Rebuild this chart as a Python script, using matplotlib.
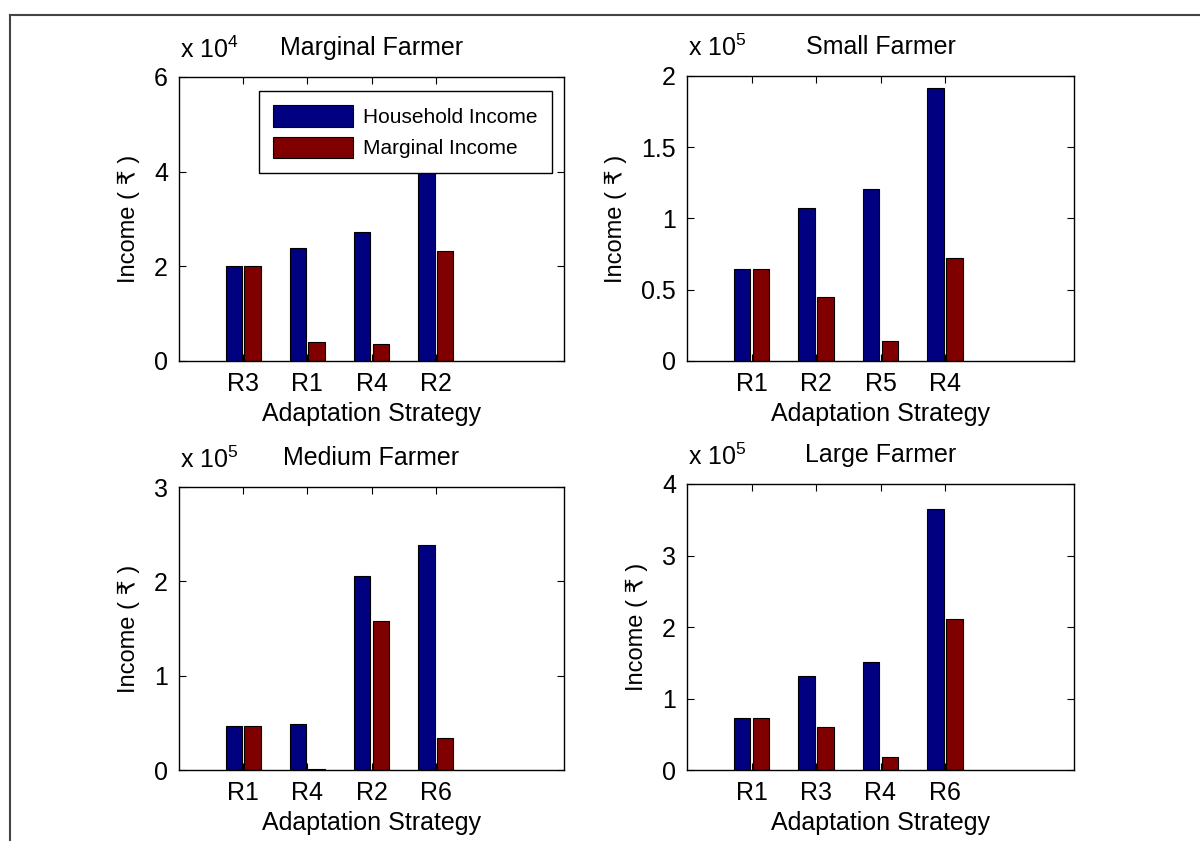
"""Household vs marginal income by adaptation strategy for four farmer classes."""

import matplotlib

matplotlib.use("Agg")
import matplotlib.pyplot as plt
from matplotlib.lines import Line2D
import numpy as np

plt.rcParams["font.family"] = ["Liberation Sans", "DejaVu Sans"]
plt.rcParams["mathtext.default"] = "regular"

# Incomes in rupees, strategies listed in plotting order
marginal_strategies = ["R3", "R1", "R4", "R2"]
marginal_household = [20000, 23900, 27200, 44000]
marginal_marginal = [20000, 3900, 3600, 23300]

small_strategies = ["R1", "R2", "R5", "R4"]
small_household = [64300, 107000, 120500, 191800]
small_marginal = [64300, 44700, 14300, 72500]

medium_strategies = ["R1", "R4", "R2", "R6"]
medium_household = [47000, 48800, 206000, 239000]
medium_marginal = [47000, 1000, 158300, 33900]

large_strategies = ["R1", "R3", "R4", "R6"]
large_household = [73200, 131500, 151000, 364600]
large_marginal = [73200, 59700, 18600, 211200]

PANELS = [
    ("Marginal Farmer", marginal_strategies, marginal_household, marginal_marginal, 4, [0, 2, 4, 6]),
    ("Small Farmer", small_strategies, small_household, small_marginal, 5, [0, 0.5, 1, 1.5, 2]),
    ("Medium Farmer", medium_strategies, medium_household, medium_marginal, 5, [0, 1, 2, 3]),
    ("Large Farmer", large_strategies, large_household, large_marginal, 5, [0, 1, 2, 3, 4]),
]

AXES_RECTS = [
    (0.1492, 0.5708, 0.3208, 0.3377),
    (0.5725, 0.5708, 0.3225, 0.3389),
    (0.1492, 0.0844, 0.3208, 0.3365),
    (0.5725, 0.0844, 0.3225, 0.3401),
]

BLUE = "#000080"
RED = "#800000"
FS = 18


def tick_text(v):
    return f"{v:g}"


fig = plt.figure(figsize=(12, 8.41), dpi=100)

for (title, strategies, household, marginal, exponent, yticks), rect in zip(PANELS, AXES_RECTS):
    ax = fig.add_axes(rect)
    scale = 10.0 ** exponent
    x = np.arange(1, len(strategies) + 1)
    ax.bar(x - 0.145, np.asarray(household) / scale, width=0.255, color=BLUE,
           edgecolor="black", linewidth=0.8, label="Household Income")
    ax.bar(x + 0.145, np.asarray(marginal) / scale, width=0.255, color=RED,
           edgecolor="black", linewidth=0.8, label="Marginal Income")

    ax.set_xlim(0, 6)
    ax.set_ylim(yticks[0], yticks[-1])
    ax.set_xticks(x)
    ax.set_xticklabels(strategies)
    ax.set_yticks(yticks)
    ax.set_yticklabels([tick_text(v) for v in yticks])
    ax.tick_params(direction="in", top=True, right=True, length=5, width=0.8,
                   labelsize=FS, pad=8)
    for spine in ax.spines.values():
        spine.set_linewidth(1.0)

    ax.set_title(title, fontsize=FS, pad=16)
    ax.set_xlabel("Adaptation Strategy", fontsize=FS, labelpad=4)
    ax.set_ylabel("Income ( ₹ )", fontsize=17, labelpad=10)
    ax.annotate(f"x $10^{{{exponent}}}$", xy=(0, 1), xycoords="axes fraction",
                xytext=(1, 14), textcoords="offset points", fontsize=FS,
                ha="left", va="baseline")

    if title == "Marginal Farmer":
        ax.legend(loc="upper right", bbox_to_anchor=(0.969, 0.951), borderaxespad=0,
                  fancybox=False, edgecolor="black", framealpha=1, fontsize=15,
                  handlelength=3.8, handleheight=1.2, borderpad=0.7, labelspacing=0.45,
                  handletextpad=0.5)

# outer frame (only top and left edges fall inside the canvas)
fig.add_artist(Line2D([10 / 1200, 1.0], [1 - 15 / 841, 1 - 15 / 841],
                      transform=fig.transFigure, color="#444444", linewidth=1.5))
fig.add_artist(Line2D([10 / 1200, 10 / 1200], [0.0, 1 - 15 / 841],
                      transform=fig.transFigure, color="#444444", linewidth=1.5))

fig.savefig("out.png", dpi=100)
